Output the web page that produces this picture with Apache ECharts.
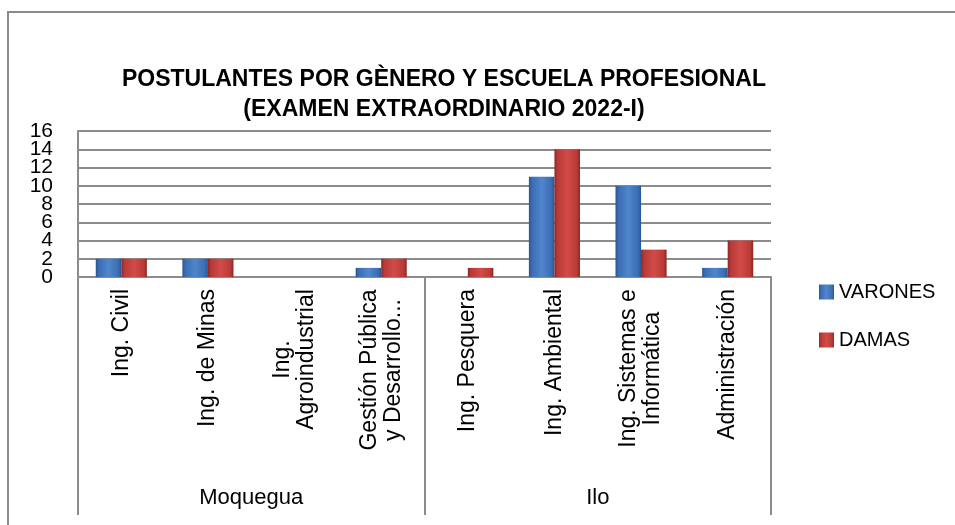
<!DOCTYPE html>
<html>
<head>
<meta charset="utf-8">
<script src="https://cdn.jsdelivr.net/npm/echarts@6/dist/echarts.min.js"></script>
<style>
  html, body { margin: 0; padding: 0; background: #fff; }
  #chart { width: 955px; height: 525px; }
</style>
</head>
<body>
<div id="chart"></div>
<script>
// datos
const categories = ['Ing. Civil', 'Ing. de Minas', 'Ing.\nAgroindustrial', 'Gestión Pública\ny Desarrollo...', 'Ing. Pesquera', 'Ing. Ambiental', 'Ing. Sistemas e\nInformática', 'Administración'];
const sedes = ['Moquegua', 'Ilo'];
const varones = [2, 2, 0, 1, 0, 11, 10, 1];
const damas = [2, 2, 0, 2, 1, 14, 3, 4];
const legendNames = ['VARONES', 'DAMAS'];
const yMin = 0, yMax = 16, yStep = 2;

const font = "'Liberation Sans', Arial, sans-serif";
const gray = '#8c8c8c';
const labelSize = 23;

//relleno con bisel aproximado
function bevel(dark, mid, light) {
  return new echarts.graphic.LinearGradient(0, 0, 1, 0, [
    { offset: 0, color: dark },
    { offset: 0.12, color: mid },
    { offset: 0.5, color: light },
    { offset: 0.88, color: mid },
    { offset: 1, color: dark },
  ]);
}

//etiquetas de dos lineas: centrar cada linea respecto a la mas larga
const ctx = document.createElement('canvas').getContext('2d');
ctx.font = labelSize + "px 'Liberation Sans'";
const rich = {};
categories.forEach((c, i) => {
  const lines = c.split('\n');
  if (lines.length > 1) {
    const w = Math.max(...lines.map(l => ctx.measureText(l).width));
    rich['m' + i] = { width: Math.ceil(w), align: 'center', fontFamily: font, fontSize: labelSize, lineHeight: 24, color: '#000' };
  }
});

//las etiquetas del eje Y se solapan en el original; se reparten en dos ejes
//para que echarts no oculte ninguna
function yLabels(even) {
  return {
    margin: 25,
    fontFamily: font,
    fontSize: 21,
    lineHeight: 16,
    color: '#000',
    showMinLabel: true,
    showMaxLabel: true,
    formatter: function(v) {
      return ((v / yStep) % 2 === 0) === even ? String(v) : '';
    },
  };
}

let chart = echarts.init(document.getElementById('chart'));
chart.setOption({
  animation: false,
  title: {
    text: 'POSTULANTES POR GÈNERO Y ESCUELA PROFESIONAL\n(EXAMEN EXTRAORDINARIO 2022-I)',
    left: 439,
    textAlign: 'center',
    top: 60,
    textStyle: { fontFamily: font, fontSize: 23, fontWeight: 'bold', color: '#000', lineHeight: 30 },
  },
  graphic: [
    {
      type: 'rect',
      silent: true,
      shape: { x: 8, y: 12, width: 1200, height: 1200 },
      style: { fill: 'none', stroke: '#8a8a8a', lineWidth: 2 },
    },
  ],
  grid: {
    left: 78,
    right: 184,
    top: 131,
    bottom: 248,
  },
  legend: {
    orient: 'vertical',
    left: 814,
    top: 277,
    itemWidth: 15,
    itemHeight: 15,
    itemGap: 28,
    icon: 'rect',
    data: legendNames,
    textStyle: { fontFamily: font, fontSize: 20, color: '#000', lineHeight: 20 },
  },
  xAxis: [
    {
      type: 'category',
      data: categories,
      position: 'bottom',
      axisLine: { lineStyle: { color: gray, width: 2 } },
      axisTick: { show: false },
      axisLabel: {
        interval: 0,
        rotate: 90,
        margin: 12,
        fontFamily: font,
        fontSize: labelSize,
        lineHeight: 24,
        color: '#000',
        rich: rich,
        formatter: function(value, idx) {
          const lines = value.split('\n');
          if (lines.length === 1) return value;
          return lines.map(l => '{m' + idx + '|' + l + '}').join('\n');
        },
      },
    },
    {
      type: 'category',
      data: sedes,
      position: 'bottom',
      axisLine: { show: false },
      axisTick: { show: true, length: 238, lineStyle: { color: gray, width: 2 } },
      axisLabel: { margin: 210, fontFamily: font, fontSize: 22, color: '#000' },
    },
  ],
  yAxis: [
    {
      type: 'value',
      position: 'left',
      min: yMin,
      max: yMax,
      interval: yStep,
      axisLine: { show: true, lineStyle: { color: gray, width: 2 } },
      axisTick: { show: false },
      splitLine: { lineStyle: { color: gray, width: 2 } },
      axisLabel: yLabels(true),
    },
    {
      type: 'value',
      position: 'left',
      offset: 0,
      min: yMin,
      max: yMax,
      interval: yStep,
      axisLine: { show: false },
      axisTick: { show: false },
      splitLine: { show: false },
      axisLabel: yLabels(false),
    },
  ],
  series: [
    {
      type: 'bar',
      name: legendNames[0],
      data: varones,
      barGap: '0%',
      barCategoryGap: '41%',
      itemStyle: { color: bevel('#2a5490', '#3b6db3', '#4f86cc') },
    },
    {
      type: 'bar',
      name: legendNames[1],
      data: damas,
      itemStyle: { color: bevel('#8c2624', '#b83a37', '#d24b48') },
    },
  ],
});
</script>
</body>
</html>
